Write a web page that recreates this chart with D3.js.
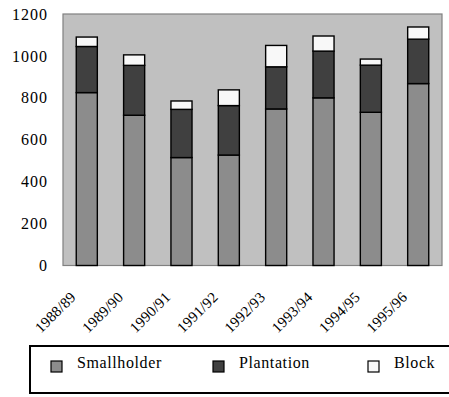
<!DOCTYPE html>
<html><head><meta charset="utf-8">
<script src="https://cdn.jsdelivr.net/npm/d3@7"></script>
<style>body{margin:0;background:#fff}svg{display:block}</style>
</head><body><svg id="c" width="449" height="397"></svg>
<script>
const categories = ["1988/89","1989/90","1990/91","1991/92","1992/93","1993/94","1994/95","1995/96"];
const smallholder = [825,717,515,527,747,800,731,868];
const plantation  = [220,238,230,236,201,223,225,212];
const block       = [45,50,40,75,102,72,29,58];
const seriesNames = ["Smallholder","Plantation","Block"];
const yTicks = [0,200,400,600,800,1000,1200];
const colors = ["#8c8c8c","#404040","#f8f8f8"];
const FONT = "'Liberation Serif', 'Times New Roman', Times, serif";

const svg = d3.select("#c").attr("font-family",FONT);
const L=63, R=442, T=14, B=265.5;
const x = d3.scaleBand().domain(categories).range([L,R]).paddingInner(0.555).paddingOuter(0.28);
const y = d3.scaleLinear().domain([0,1200]).range([B,T]);

svg.append("rect").attr("x",L).attr("y",T).attr("width",R-L).attr("height",B-T)
  .attr("fill","#c0c0c0").attr("stroke","#808080").attr("stroke-width",1.2);

const table = categories.map((c,i)=>({cat:c, Smallholder:smallholder[i], Plantation:plantation[i], Block:block[i]}));
const stacked = d3.stack().keys(seriesNames)(table);
stacked.forEach((s,si)=>{
  svg.append("g").selectAll("rect").data(s).join("rect")
    .attr("x",d=>x(d.data.cat)).attr("width",x.bandwidth())
    .attr("y",d=>y(d[1])).attr("height",d=>y(d[0])-y(d[1]))
    .attr("fill",colors[si]).attr("stroke","#000").attr("stroke-width",1.4);
});

const yAxis = d3.axisLeft(y).tickValues(yTicks).tickFormat(d3.format("d")).tickSize(0).tickPadding(15);
const ga = svg.append("g").attr("transform",`translate(${L},0)`).call(yAxis);
ga.attr("font-family",FONT).attr("font-size",16);
ga.select(".domain").remove();
ga.selectAll("text").attr("font-family",FONT).attr("font-size",16).attr("letter-spacing",1).attr("fill","#000");

svg.append("g").selectAll("text").data(categories).join("text")
  .attr("transform",d=>`translate(${x(d)+x.bandwidth()/2-10},298) rotate(-45)`)
  .attr("font-family",FONT)
  .attr("text-anchor","end").attr("font-size",15).attr("letter-spacing",0.2).text(d=>d);

// legend
svg.append("rect").attr("x",30).attr("y",346).attr("width",440).attr("height",47)
  .attr("fill","#fff").attr("stroke","#000").attr("stroke-width",2);
const lx=[51,213,368];
seriesNames.forEach((n,i)=>{
  svg.append("rect").attr("x",lx[i]).attr("y",361).attr("width",11).attr("height",11)
    .attr("fill",colors[i]).attr("stroke","#000").attr("stroke-width",1.2);
  svg.append("text").attr("x",lx[i]+26).attr("y",368).attr("font-family",FONT)
    .attr("font-size",16).attr("letter-spacing",0.6).text(n);
});
</script></body></html>
